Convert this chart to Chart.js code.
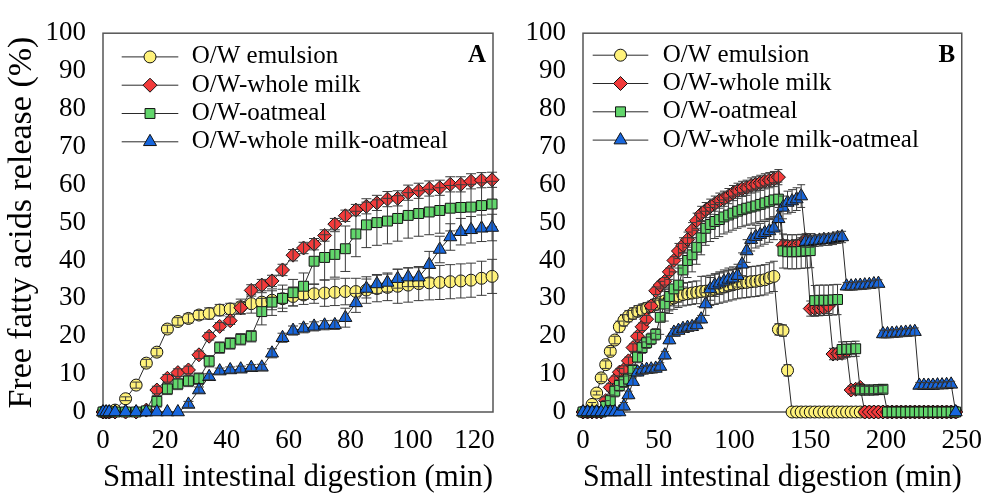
<!DOCTYPE html>
<html>
<head>
<meta charset="utf-8">
<script src="https://cdn.jsdelivr.net/npm/chart.js@4.4.1/dist/chart.umd.min.js"></script>
<style>
  html, body { margin: 0; padding: 0; background: #fff; }
  #wrap { position: relative; width: 995px; height: 498px; }
  #wrap canvas { position: absolute; left: 0; top: 0; }
</style>
</head>
<body>
<div id="wrap">
  <canvas id="chartA" width="995" height="498"></canvas>
  <canvas id="chartB" width="995" height="498"></canvas>
</div>
<script>
// series + axes
const seriesNames = ['O/W emulsion', 'O/W-whole milk', 'O/W-oatmeal', 'O/W-whole milk-oatmeal'];
const yTicks = [0, 10, 20, 30, 40, 50, 60, 70, 80, 90, 100];
const xTicksA = [0, 20, 40, 60, 80, 100, 120];
const xTicksB = [0, 50, 100, 150, 200, 250];

// panel A (min)
const timesA = [0, 1, 2, 3.9, 7.3, 10.7, 14.0, 17.4, 20.8, 24.2, 27.6, 31.0, 34.3, 37.7, 41.1, 44.5, 47.9, 51.3, 54.6, 58.0,
  61.4, 64.8, 68.2, 71.6, 74.9, 78.3, 81.7, 85.1, 88.5, 91.9, 95.2, 98.6, 102.0, 105.4, 108.8, 112.2, 115.6, 118.9, 122.3, 125.7];
const emulsionA = [0, 0, 0, 0.5, 3.5, 7.1, 12.9, 15.8, 21.9, 23.9, 24.7, 25.6, 26.0, 26.9, 27.2, 27.8, 28.6, 29.0, 29.5, 29.9,
  30.5, 30.9, 31.2, 31.4, 31.6, 31.8, 31.8, 32.2, 32.6, 32.9, 33.2, 33.5, 33.9, 34.1, 34.2, 34.4, 34.6, 34.8, 35.3, 35.8];
const milkA = [0, 0, 0, 0, 0, 0, 0.5, 5.8, 8.9, 10.4, 11.1, 15.1, 20.0, 22.6, 24.1, 27.5, 32.1, 33.5, 34.6, 37.5,
  41.4, 43.3, 44.3, 46.6, 49.6, 51.8, 53.3, 54.3, 55.2, 56.2, 56.4, 57.9, 58.4, 59.0, 59.2, 60.1, 60.1, 60.9, 61.2, 61.3];
const oatA = [0, 0, 0, 0, 0, 0, 0.3, 2.8, 6.1, 7.4, 8.2, 8.8, 13.4, 17.0, 18.1, 19.2, 20.0, 26.5, 29.0, 30.0,
  31.5, 33.2, 39.8, 40.8, 41.6, 43.1, 47.0, 49.4, 50.0, 50.4, 51.1, 51.9, 52.4, 52.8, 53.2, 53.8, 54.0, 54.1, 54.5, 54.9];
const milkOatA = [0, 0, 0, 0, 0, 0, 0, 0, 0, 0, 2.0, 5.8, 9.3, 10.8, 11.1, 11.3, 11.7, 11.8, 15.5, 19.6,
  21.5, 22.1, 22.6, 22.9, 23.0, 24.9, 28.8, 32.6, 33.8, 34.2, 35.2, 35.6, 35.6, 38.9, 42.9, 46.2, 47.6, 48.1, 48.5, 48.7];
const emulsionErrA = [0, 0, 0, 0.3, 0.5, 0.8, 1, 1, 1, 1, 1.2, 1.2, 1.5, 1.5, 1.5, 2, 2.5, 2.5, 2.5, 2.5,
  2.5, 2.5, 2.5, 3.5, 3.5, 3.5, 3.5, 3.5, 3.5, 3.5, 4.5, 4.5, 4.5, 4.5, 4.5, 4.5, 4.5, 4.5, 4.5, 4.5];
const milkErrA = [0, 0, 0, 0, 0, 0, 0.3, 1, 1, 1, 1, 1, 1, 1, 1, 1.5, 1.5, 1.5, 1.5, 1.5,
  1.5, 1.5, 1.5, 1.5, 1.5, 1.5, 1.5, 2, 2, 2, 2, 2, 2, 2, 2, 2, 2, 2, 2, 2];
const oatErrA = [0, 0, 0, 0, 0, 0, 0.3, 1.5, 1.5, 1.5, 1.5, 1.5, 1.5, 1.5, 1.5, 1.5, 1.5, 3.5, 3.5, 3.5,
  3.5, 3.5, 6, 6, 6, 6, 6, 6, 6, 6, 6, 6, 6, 6, 6, 6, 6, 6, 6, 6];
const milkOatErrA = [0, 0, 0, 0, 0, 0, 0, 0, 0, 0, 0.8, 0.8, 0.8, 0.8, 0.8, 0.8, 0.8, 0.8, 1.2, 1.2,
  1.2, 1.2, 1.2, 1.2, 1.2, 2.5, 2.5, 2.5, 2.5, 2.5, 2.5, 2.5, 2.5, 3.5, 3.5, 3.5, 3.5, 3.5, 3.5, 3.5];

// panel B (min)
const timesB = [0, 3, 6, 9, 12, 15, 18, 21, 24, 27, 30, 33, 36, 39, 42, 45, 48, 51, 54, 57,
  60, 63, 66, 69, 72, 75, 78, 81, 84, 87, 90, 93, 96, 99, 102, 105, 108, 111, 114, 117,
  120, 123, 126, 129, 132, 135, 138, 141, 144, 147, 150, 153, 156, 159, 162, 165, 168, 171, 174, 177,
  180, 183, 186, 189, 192, 195, 198, 201, 204, 207, 210, 213, 216, 219, 222, 225, 228, 231, 234, 237,
  240, 243, 246];
const emulsionB = [0, 0, 2, 5, 9, 12.5, 16, 19, 22.5, 24.2, 25.3, 26, 26.6, 27, 27.4, 27.8, 28.4, 28.9, 29.3, 29.7,
  30.1, 30.6, 31, 31.2, 31.4, 31.6, 31.8, 31.9, 32.1, 32.4, 32.7, 33, 33.3, 33.6, 33.9, 34.1, 34.2, 34.4, 34.5, 34.7,
  34.9, 35.4, 35.8, 21.8, 21.5, 11, 0, 0, 0, 0, 0, 0, 0, 0, 0, 0, 0, 0, 0, 0,
  0, 0, 0, 0, 0, 0, 0, 0, 0, 0, 0, 0, 0, 0, 0, 0, 0, 0, 0, 0,
  0, 0, 0];
const milkB = [0, 0, 0, 0, 0, 3, 6.5, 8.5, 10.5, 11.2, 13.5, 17, 20, 22.5, 24.5, 28, 32, 33.5, 34.5, 37,
  40, 42.5, 44, 45.5, 48, 50.5, 52.3, 53.3, 54.2, 55, 55.8, 56.3, 57, 57.8, 58.4, 58.9, 59.2, 59.8, 60.1, 60.5,
  60.9, 61.2, 61.5, 62, 44, 43.8, 43.8, 44, 44.5, 45.5, 27.3, 27.3, 27.4, 27.5, 28, 15.3, 15.4, 15.5, 16, 5.8,
  6, 6.5, 0, 0, 0, 0, 0, 0, 0, 0, 0, 0, 0, 0, 0, 0, 0, 0, 0, 0,
  0, 0, 0];
const oatB = [0, 0, 0, 0, 0, 1.5, 3, 5.5, 7, 8, 8.7, 11, 14.5, 17, 18.3, 19.3, 20.5, 25, 28.5, 30.5,
  32.5, 33.5, 37.5, 40, 41.5, 43.5, 46, 48.5, 49.5, 50.3, 50.8, 51.5, 52, 52.5, 53, 53.4, 53.8, 54.1, 54.4, 54.8,
  55.2, 55.6, 56, 56.2, 42.5, 42.3, 42.3, 42.3, 42.4, 42.5, 42.6, 29.4, 29.5, 29.5, 29.5, 29.6, 29.7, 16.5, 16.6, 16.6,
  16.7, 5.8, 5.8, 5.8, 5.8, 5.9, 6, 0, 0, 0, 0, 0, 0, 0, 0, 0, 0, 0, 0, 0,
  0, 0, 0];
const milkOatB = [0, 0, 0, 0, 0, 0, 0, 0, 0, 1.5, 4.5, 8, 10.5, 11, 11.2, 11.3, 11.5, 12, 15, 19,
  21, 21.5, 22, 22.3, 22.5, 23, 24.5, 28.5, 32.5, 33.5, 34, 34.5, 35, 35.3, 36, 39, 42.5, 45.5, 46.3, 46.8,
  47.3, 47.8, 48.5, 51, 54, 55.3, 55.7, 56.2, 57, 45, 45, 45.2, 45.3, 45.5, 45.5, 45.7, 46, 46.2, 33.2, 33.2,
  33.3, 33.4, 33.5, 33.6, 33.8, 33.9, 20.6, 20.6, 20.7, 20.8, 20.9, 21, 21.1, 21.2, 7, 7, 7, 7, 7.1, 7.1,
  7.2, 7.3, 0];
const emulsionErrB = [0, 0, 0.5, 0.5, 1, 1, 1, 1, 1.5, 1.5, 1.5, 1.5, 1.5, 1.5, 1.5, 1.5, 1.5, 3, 3, 3,
  3, 3, 3, 3, 3, 3, 4, 4, 4, 4, 4, 4, 4, 4, 4, 4, 4, 4, 4, 4,
  4, 4, 4, 1.5, 1.5, 1.5, 0, 0, 0, 0, 0, 0, 0, 0, 0, 0, 0, 0, 0, 0,
  0, 0, 0, 0, 0, 0, 0, 0, 0, 0, 0, 0, 0, 0, 0, 0, 0, 0, 0, 0,
  0, 0, 0];
const milkErrB = [0, 0, 0, 0, 0, 1, 1, 1, 1, 1, 1, 1, 1, 1, 1, 1, 1, 1, 1, 1,
  1, 2, 2, 2, 2, 2, 2, 2, 2, 2, 2, 2, 2, 2, 2, 2, 2, 2, 2, 2,
  2, 2, 2, 2, 1.5, 1.5, 1.5, 1.5, 1.5, 1.5, 2, 2, 2, 2, 2, 1.5, 1.5, 1.5, 1.5, 1,
  1, 1, 0, 0, 0, 0, 0, 0, 0, 0, 0, 0, 0, 0, 0, 0, 0, 0, 0, 0,
  0, 0, 0];
const oatErrB = [0, 0, 0, 0, 0, 1.5, 1.5, 1.5, 1.5, 1.5, 1.5, 1.5, 1.5, 1.5, 1.5, 1.5, 1.5, 4.5, 4.5, 4.5,
  4.5, 4.5, 4.5, 4.5, 4.5, 4.5, 4.5, 4.5, 4.5, 4.5, 4.5, 4.5, 4.5, 4.5, 4.5, 4.5, 4.5, 4.5, 4.5, 4.5,
  4.5, 4.5, 4.5, 4.5, 4.5, 4.5, 4.5, 4.5, 4.5, 4.5, 4.5, 4, 4, 4, 4, 4, 4, 2, 2, 2,
  2, 1, 1, 1, 1, 1, 1, 0, 0, 0, 0, 0, 0, 0, 0, 0, 0, 0, 0, 0,
  0, 0, 0];
const milkOatErrB = [0, 0, 0, 0, 0, 0, 0, 0, 0, 1, 1, 1, 1, 1, 1, 1, 1, 1, 1, 1,
  1, 1, 1, 1, 1, 1, 1, 3, 3, 3, 3, 3, 3, 3, 3, 3, 3, 3, 3, 3,
  3, 3, 3, 3, 3, 3, 3, 3, 3, 1.5, 1.5, 1.5, 1.5, 1.5, 1.5, 1.5, 1.5, 1.5, 1, 1,
  1, 1, 1, 1, 1, 1, 1, 1, 1, 1, 1, 1, 1, 1, 0.8, 0.8, 0.8, 0.8, 0.8, 0.8,
  0.8, 0.8, 0];

const markers = [
  {style: 'circle', radius: 6, fill: '#fff27a'},
  {style: 'rectRot', radius: 7, fill: '#f23b3b'},
  {style: 'rect', radius: 7, fill: '#62d66c'},
  {style: 'triangle', radius: 7.5, fill: '#1766dd'}
];

Chart.defaults.font.family = '"Liberation Serif", "Times New Roman", serif';
Chart.defaults.color = '#000';

function makeDatasets(times, series) {
  return series.map((vals, i) => ({
    label: seriesNames[i],
    data: vals.map((v, j) => ({x: times[j], y: v})),
    borderColor: '#2a2a2a',
    borderWidth: 1,
    pointStyle: markers[i].style,
    pointRadius: markers[i].radius,
    pointHoverRadius: markers[i].radius,
    pointBackgroundColor: markers[i].fill,
    pointBorderColor: '#111',
    pointBorderWidth: 1,
    order: 3 - i,
    clip: false,
    tension: 0
  }));
}

const frame = {
  id: 'frame',
  beforeDatasetsDraw(chart) {
    const {ctx, chartArea: a} = chart;
    ctx.save();
    ctx.strokeStyle = '#555';
    ctx.lineWidth = 1.5;
    ctx.strokeRect(a.left, a.top, a.right - a.left, a.bottom - a.top);
    ctx.restore();
  }
};

const errorBars = {
  id: 'errorBars',
  afterDatasetDraw(chart, args, opts) {
    const errs = opts.errs[args.index];
    const {x, y} = chart.scales;
    const ctx = chart.ctx;
    ctx.save();
    ctx.strokeStyle = '#3a3a3a';
    ctx.lineWidth = 1;
    chart.data.datasets[args.index].data.forEach((p, j) => {
      const e = errs[j];
      if (!e) return;
      const px = x.getPixelForValue(p.x);
      const top = y.getPixelForValue(p.y + e);
      const bot = y.getPixelForValue(p.y - e);
      ctx.beginPath();
      ctx.moveTo(px, top); ctx.lineTo(px, bot);
      ctx.moveTo(px - opts.cap, top); ctx.lineTo(px + opts.cap, top);
      ctx.moveTo(px - opts.cap, bot); ctx.lineTo(px + opts.cap, bot);
      ctx.stroke();
    });
    ctx.restore();
  }
};

const insideLegend = {
  id: 'insideLegend',
  afterDraw(chart, args, o) {
    const ctx = chart.ctx, a = chart.chartArea;
    ctx.save();
    ctx.textBaseline = 'middle';
    chart.data.datasets.forEach((ds, i) => {
      const y = a.top + o.top + i * o.gap;
      const x0 = a.left + o.lineStart;
      ctx.strokeStyle = '#2a2a2a';
      ctx.lineWidth = 1;
      ctx.beginPath();
      ctx.moveTo(x0, y);
      ctx.lineTo(x0 + o.lineLength, y);
      ctx.stroke();
      ctx.fillStyle = ds.pointBackgroundColor;
      ctx.strokeStyle = '#111';
      Chart.helpers.drawPoint(ctx, {pointStyle: ds.pointStyle, radius: ds.pointRadius, rotation: 0, borderWidth: 1},
        x0 + o.lineLength / 2, y);
      ctx.fillStyle = '#000';
      ctx.font = '25px "Liberation Serif"';
      ctx.fillText(ds.label, x0 + o.textStart, y);
    });
    ctx.font = 'bold 25px "Liberation Serif"';
    ctx.textAlign = 'center';
    ctx.fillStyle = '#000';
    ctx.fillText(o.panel, a.right - o.panelRight, a.top + o.panelTop);
    ctx.restore();
  }
};

function buildChart(id, cfg) {
  return new Chart(document.getElementById(id), {
    type: 'line',
    data: {datasets: makeDatasets(cfg.times, cfg.series)},
    options: {
      responsive: false,
      animation: false,
      events: [],
      layout: {padding: cfg.padding, autoPadding: false},
      plugins: {
        legend: {display: false},
        tooltip: {enabled: false},
        errorBars: {errs: cfg.errs, cap: cfg.cap},
        insideLegend: cfg.legend
      },
      scales: {
        x: {
          type: 'linear', min: 0, max: cfg.xMax,
          grid: {display: false, drawTicks: false},
          border: {display: false},
          afterBuildTicks: s => { s.ticks = cfg.xTicks.map(v => ({value: v})); },
          afterFit: s => { s.height = 86; },
          ticks: {font: {size: 27}, padding: 13, autoSkip: false, maxRotation: 0},
          title: {display: true, text: 'Small intestinal digestion (min)', font: {size: 32}, padding: {top: 0, bottom: 1}}
        },
        y: {
          min: 0, max: 100,
          grid: {display: false, drawTicks: false},
          border: {display: false},
          afterBuildTicks: s => { s.ticks = yTicks.map(v => ({value: v})); },
          afterFit: s => { s.width = cfg.yWidth; },
          ticks: {font: {size: 27}, padding: 17, autoSkip: false},
          title: {display: cfg.yTitle, text: 'Free fatty acids release (%)', font: {size: 34}, padding: {top: 2, bottom: 0}}
        }
      }
    },
    plugins: [frame, errorBars, insideLegend]
  });
}

buildChart('chartA', {
  times: timesA,
  series: [emulsionA, milkA, oatA, milkOatA],
  errs: [emulsionErrA, milkErrA, oatErrA, milkOatErrA],
  cap: 5,
  xMax: 126,
  xTicks: xTicksA,
  padding: {left: 0, right: 502, top: 23, bottom: 0},
  yWidth: 103,
  yTitle: true,
  legend: {top: 23.7, gap: 28.3, lineStart: 18.7, lineLength: 56.6, textStart: 70, panel: 'A', panelRight: 16, panelTop: 22}
});

buildChart('chartB', {
  times: timesB,
  series: [emulsionB, milkB, oatB, milkOatB],
  errs: [emulsionErrB, milkErrB, oatErrB, milkOatErrB],
  cap: 4,
  xMax: 250,
  xTicks: xTicksB,
  padding: {left: 497, right: 22, top: 23, bottom: 0},
  yWidth: 86,
  yTitle: false,
  legend: {top: 22, gap: 28.3, lineStart: 9.7, lineLength: 55.6, textStart: 70, panel: 'B', panelRight: 15, panelTop: 22}
});
</script>
</body>
</html>
